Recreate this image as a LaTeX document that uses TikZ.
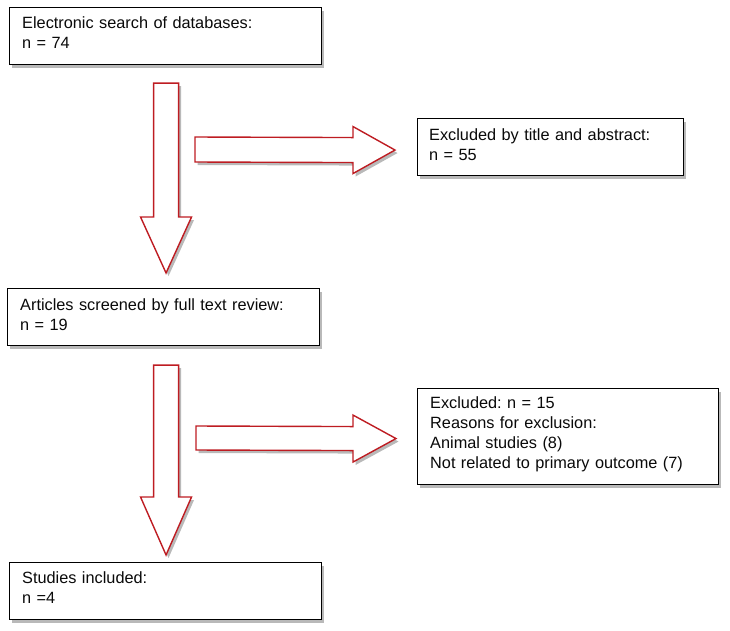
\documentclass[tikz,border=0pt]{standalone}
\usepackage{fontspec}
\setmainfont{Liberation Sans}
\usetikzlibrary{calc,shadows}
\definecolor{arrowred}{RGB}{190,28,34}
\definecolor{txtcol}{RGB}{10,10,10}
\frenchspacing
\begin{document}
\begin{tikzpicture}[x=1pt,y=-1pt,
  shad/.style={drop shadow={shadow xshift=2.5pt,shadow yshift=-3pt,fill=black!50,opacity=0.55}},
  box/.style={draw=black,line width=1.1pt,fill=white,anchor=north west,inner sep=0pt,shad},
  txt/.style={anchor=base west,inner sep=0pt,align=left,text width=300pt,
    font=\fontsize{16.3}{20}\selectfont\frenchspacing,text=txtcol},
  blockarrow/.style={draw=arrowred,line width=1.4pt,fill=white,line join=miter,shad}]
\useasboundingbox (0,0) rectangle (730,630);

% boxes
\node[box,minimum width=312pt,minimum height=57pt] (b1) at (9,7) {};
\node[box,minimum width=266pt,minimum height=57pt] (b2) at (417,118) {};
\node[box,minimum width=312pt,minimum height=57pt] (b3) at (7,288) {};
\node[box,minimum width=301pt,minimum height=96pt] (b4) at (417,388) {};
\node[box,minimum width=312pt,minimum height=57pt] (b5) at (9,562) {};

% texts
\node[txt] (t1) at ($(b1.north west)+(13,21)$) {Electronic search of databases:\\n = 74};
\node[txt] (t2) at ($(b2.north west)+(12,22)$) {Excluded by title and abstract:\\n = 55};
\node[txt] (t3) at ($(b3.north west)+(13,22)$) {Articles screened by full text review:\\n = 19};
\node[txt] (t4) at ($(b4.north west)+(13,20)$) {Excluded: n = 15\\Reasons for exclusion:\\Animal studies (8)\\Not related to primary outcome (7)};
\node[txt] (t5) at ($(b5.north west)+(13,21)$) {Studies included:\\n =4};

% connector end points
\coordinate (d1s) at ($(b1.south)+(0.5,18)$);
\coordinate (d1e) at ($(b3.north)+(2.5,-15)$);
\coordinate (d2s) at ($(b3.south)+(2.5,19)$);
\coordinate (d2e) at ($(b5.north)+(0.5,-7)$);
\coordinate (r1s) at (195,149.5);
\coordinate (r1e) at ($(b2.west)+(-22,3)$);
\coordinate (r2s) at (196,438);
\coordinate (r2e) at ($(b4.west)+(-21,2)$);

% block arrows
\draw[blockarrow] ($(d1s)+(-12.5,0)$) -- ($(d1s)+(12.5,0)$) -- ($(d1e)+(12.5,-56)$)
  -- ($(d1e)+(25.5,-56)$) -- (d1e) -- ($(d1e)+(-25.5,-56)$) -- ($(d1e)+(-12.5,-56)$) -- cycle;
\draw[blockarrow] ($(d2s)+(-12.5,0)$) -- ($(d2s)+(12.5,0)$) -- ($(d2e)+(12.5,-58)$)
  -- ($(d2e)+(25.5,-58)$) -- (d2e) -- ($(d2e)+(-25.5,-58)$) -- ($(d2e)+(-12.5,-58)$) -- cycle;
\draw[blockarrow] ($(r1s)+(0,-12.5)$) -- ($(r1e)+(-42,-12.5)$) -- ($(r1e)+(-42,-23.5)$)
  -- (r1e) -- ($(r1e)+(-42,23.5)$) -- ($(r1e)+(-42,12.5)$) -- ($(r1s)+(0,12.5)$) -- cycle;
\draw[blockarrow] ($(r2s)+(0,-12)$) -- ($(r2e)+(-43,-12)$) -- ($(r2e)+(-43,-23.5)$)
  -- (r2e) -- ($(r2e)+(-43,23.5)$) -- ($(r2e)+(-43,12)$) -- ($(r2s)+(0,12)$) -- cycle;
\end{tikzpicture}
\end{document}
